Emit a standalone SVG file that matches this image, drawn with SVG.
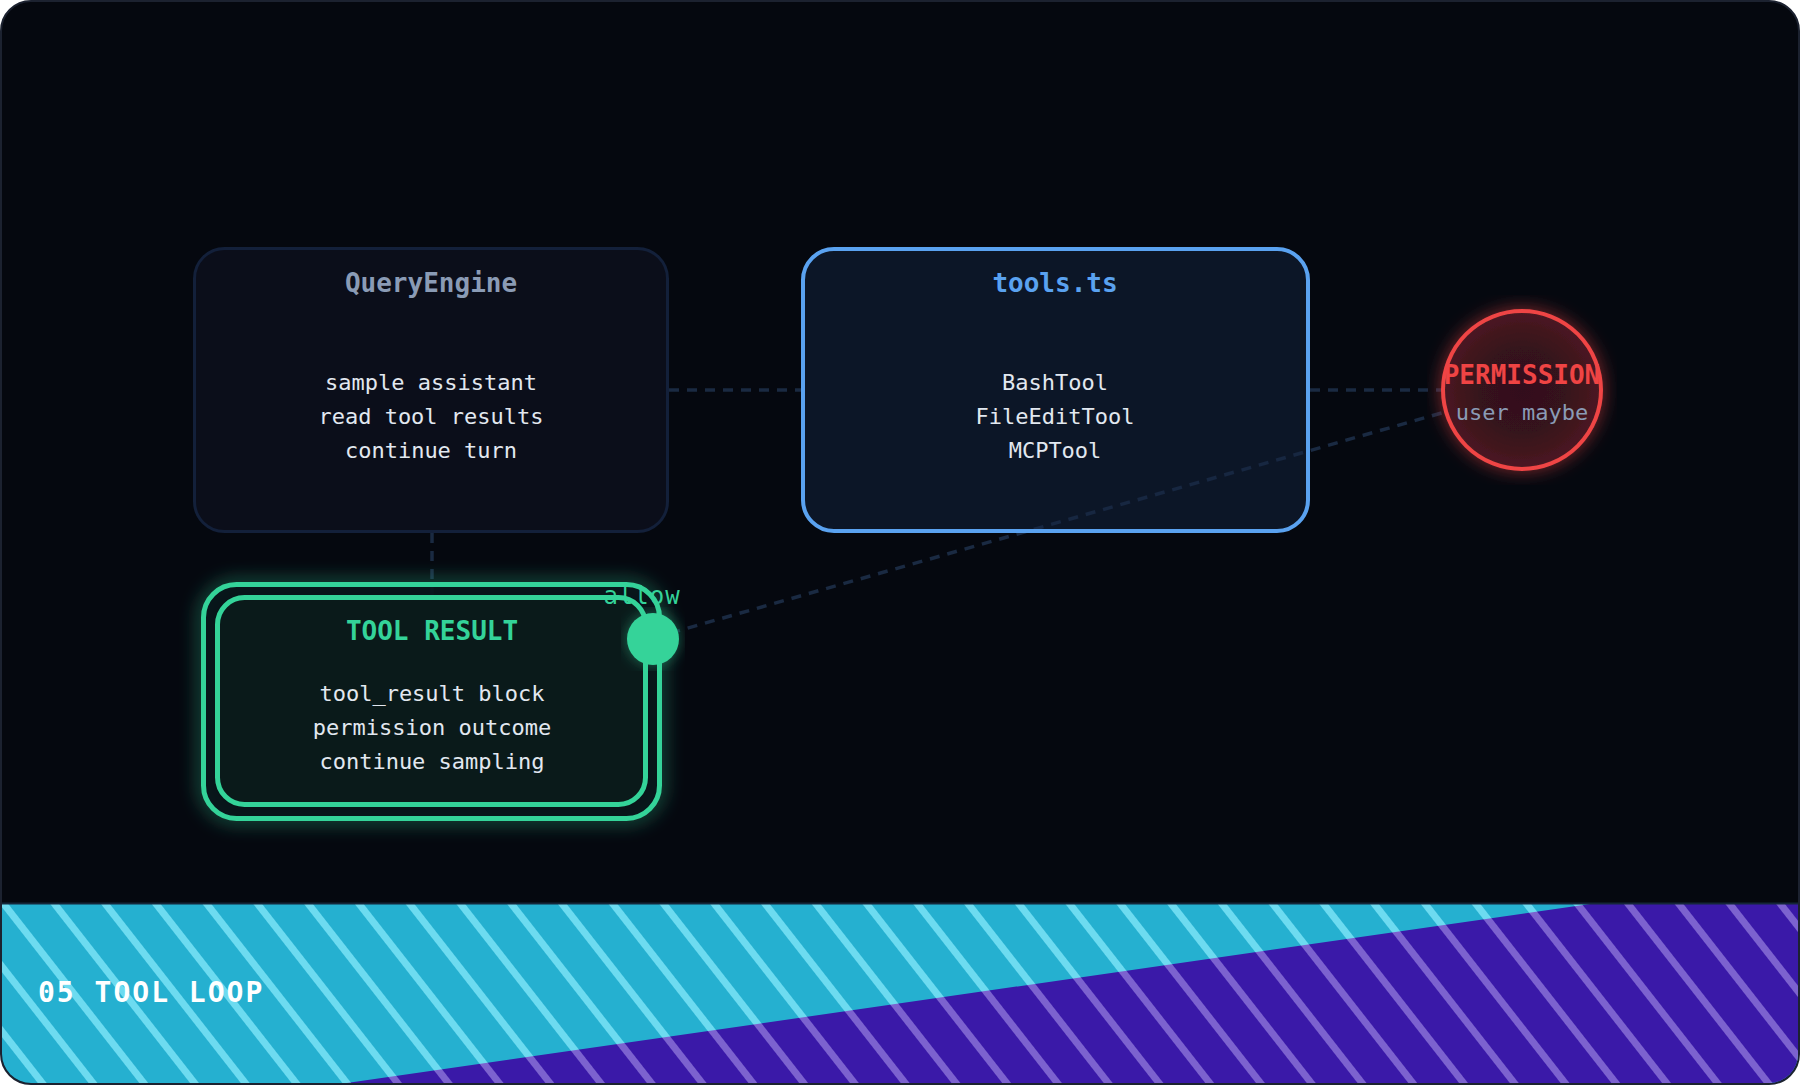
<svg xmlns="http://www.w3.org/2000/svg" width="1800" height="1085" viewBox="0 0 1800 1085">
<defs>
<style>
.t{font-family:"DejaVu Sans Mono","Liberation Mono",monospace;text-anchor:middle}
.title{font-size:26px;font-weight:bold}
.body{font-size:22px;fill:#e2e8f0}
.edge{fill:none;stroke:#1a2a42;stroke-width:3.5;stroke-dasharray:10 8}
</style>
<clipPath id="frameClip"><rect x="2" y="2" width="1796" height="1081" rx="29"/></clipPath>
<pattern id="stripeC" patternUnits="userSpaceOnUse" width="40" height="40" patternTransform="rotate(-38)">
<rect x="0" y="0" width="40" height="40" fill="#25b0d0"/>
<rect x="3" y="0" width="7" height="40" fill="#6ddbf0"/>
</pattern>
<pattern id="stripeP" patternUnits="userSpaceOnUse" width="40" height="40" patternTransform="rotate(-38)">
<rect x="0" y="0" width="40" height="40" fill="#3a19a8"/>
<rect x="3" y="0" width="7" height="40" fill="#7c62cf"/>
</pattern>
<filter id="blurG" x="-20%" y="-30%" width="140%" height="160%">
<feGaussianBlur stdDeviation="9"/>
</filter>
<filter id="glowG">
<feGaussianBlur in="SourceAlpha" stdDeviation="7" result="b"/>
<feFlood flood-color="#34d399" flood-opacity="0.45"/>
<feComposite in2="b" operator="in" result="g"/>
<feMerge><feMergeNode in="g"/><feMergeNode in="SourceGraphic"/></feMerge>
</filter>
<filter id="glowR">
<feGaussianBlur in="SourceAlpha" stdDeviation="9" result="b"/>
<feFlood flood-color="#ef4444" flood-opacity="0.55"/>
<feComposite in2="b" operator="in" result="g"/>
<feMerge><feMergeNode in="g"/><feMergeNode in="SourceGraphic"/></feMerge>
</filter>
<radialGradient id="permFill" cx="0.5" cy="0.5" r="0.5">
<stop offset="0" stop-color="#33101a"/>
<stop offset="0.55" stop-color="#36121a"/>
<stop offset="1" stop-color="#4c1a22"/>
</radialGradient>
</defs>

<g id="frame">
<rect x="1" y="1" width="1798" height="1083" rx="30" fill="#05080f" stroke="#1c2230" stroke-width="2"/>
</g>

<g id="banner" clip-path="url(#frameClip)">
<rect x="0" y="904" width="1800" height="181" fill="url(#stripeC)"/>
<polygon points="333,1085 1590,904 1800,904 1800,1085" fill="url(#stripeP)"/>
<line x1="0" y1="903.5" x2="1800" y2="903.5" stroke="#15263a" stroke-width="2"/>
<text x="38" y="1002" font-family="DejaVu Sans Mono, Liberation Mono, monospace" font-size="28" font-weight="bold" letter-spacing="2" fill="#ffffff">05 TOOL LOOP</text>
</g>

<g id="connectors">
<line class="edge" x1="669" y1="390" x2="801" y2="390"/>
<line class="edge" x1="1310" y1="390" x2="1442" y2="390"/>
<line class="edge" x1="432" y1="533" x2="432" y2="595"/>
<line class="edge" x1="653" y1="638" x2="1445" y2="412"/>
</g>

<g id="node-queryengine">
<rect x="194.5" y="248.5" width="473" height="283" rx="30" fill="#141a2a" fill-opacity="0.4" stroke="#13203a" stroke-width="3"/>
<text class="t title" x="431" y="292" fill="#8a9bb5">QueryEngine</text>
<text class="t body" x="431" y="390">sample assistant</text>
<text class="t body" x="431" y="424">read tool results</text>
<text class="t body" x="431" y="458">continue turn</text>
</g>

<g id="node-tools">
<rect x="803" y="249" width="505" height="282" rx="31" fill="#142340" fill-opacity="0.5" stroke="#5aa2f0" stroke-width="4"/>
<text class="t title" x="1055" y="292" fill="#5aa2f0">tools.ts</text>
<text class="t body" x="1055" y="390">BashTool</text>
<text class="t body" x="1055" y="424">FileEditTool</text>
<text class="t body" x="1055" y="458">MCPTool</text>
</g>

<g id="node-permission">
<circle cx="1522" cy="390" r="79" fill="url(#permFill)" stroke="#ef4444" stroke-width="4" filter="url(#glowR)"/>
<text class="t" x="1522" y="384" font-size="26" font-weight="bold" fill="#ef4444">PERMISSION</text>
<text class="t" x="1522" y="420" font-size="22" fill="#8a9bb5">user maybe</text>
</g>

<g id="node-toolresult">
<rect x="203.5" y="584.5" width="456" height="234" rx="33" fill="none" stroke="#34d399" stroke-width="10" stroke-opacity="0.45" filter="url(#blurG)"/>
<rect x="203.5" y="584.5" width="456" height="234" rx="33" fill="#08141a" fill-opacity="0.9" stroke="#34d399" stroke-width="5"/>
<rect x="217.5" y="597.5" width="428" height="207" rx="27" fill="#0a1a1a" stroke="#34d399" stroke-width="5"/>
<text class="t title" x="432" y="640" fill="#34d399">TOOL RESULT</text>
<text class="t body" x="432" y="701">tool_result block</text>
<text class="t body" x="432" y="735">permission outcome</text>
<text class="t body" x="432" y="769">continue sampling</text>
</g>

<g id="port-allow">
<circle cx="653" cy="639" r="26" fill="#34d399" filter="url(#glowG)"/>
<text class="t" x="642" y="604" font-size="24" letter-spacing="1" fill="#34d399">allow</text>
</g>
</svg>
